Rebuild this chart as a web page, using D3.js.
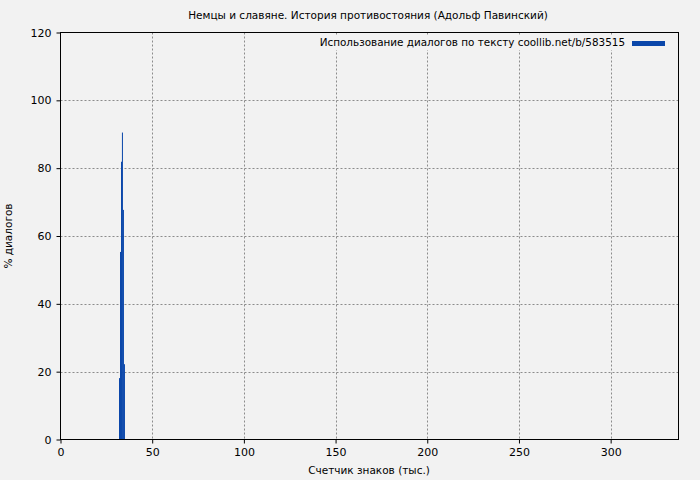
<!DOCTYPE html>
<html lang="ru">
<head>
<meta charset="UTF-8">
<title>Немцы и славяне</title>
<script src="https://cdn.jsdelivr.net/npm/d3@7"></script>
<style>
  body { margin: 0; background: #f2f2f2; overflow: hidden; }
  text { font-family: "DejaVu Sans", sans-serif; fill: #000; }
</style>
</head>
<body>
<script>
// данные: начало интервала (тыс. знаков) и % диалогов
const binStart = [31.9, 32.45, 33.0, 33.5, 34.05, 34.6];
const binWidth = 0.55;
const dialogPct = [18.1, 55.3, 81.9, 90.5, 67.7, 22.2];
const xTicks = [0, 50, 100, 150, 200, 250, 300];
const yTicks = [0, 20, 40, 60, 80, 100, 120];

const W = 700, H = 480;
const m = {left: 60.5, right: 678.5, top: 32.5, bottom: 439.5};

const svg = d3.select("body").append("svg")
    .attr("width", W).attr("height", H);
svg.append("rect").attr("width", W).attr("height", H).attr("fill", "#f2f2f2");

const x = d3.scaleLinear().domain([0, 337]).range([m.left, m.right]);
const y = d3.scaleLinear().domain([0, 120]).range([m.bottom, m.top]);

// сетка
const grid = svg.append("g").attr("stroke", "#8c8c8c").attr("stroke-dasharray", "2,2").attr("stroke-width", 1);
xTicks.slice(1).forEach(function (t) {
    grid.append("line").attr("x1", Math.round(x(t)) + 0.5).attr("x2", Math.round(x(t)) + 0.5)
        .attr("y1", m.top).attr("y2", m.bottom);
});
yTicks.slice(1, -1).forEach(function (t) {
    grid.append("line").attr("x1", m.left).attr("x2", m.right)
        .attr("y1", Math.round(y(t)) + 0.5).attr("y2", Math.round(y(t)) + 0.5);
});

// столбцы
svg.append("g").selectAll("rect").data(dialogPct).join("rect")
    .attr("x", (d, i) => x(binStart[i]))
    .attr("width", (d, i) => x(binStart[i] + binWidth) - x(binStart[i]))
    .attr("y", d => y(d))
    .attr("height", d => y(0) - y(d))
    .attr("fill", "#0b47aa");

// рамка
svg.append("rect").attr("x", m.left).attr("y", m.top)
    .attr("width", m.right - m.left).attr("height", m.bottom - m.top)
    .attr("fill", "none").attr("stroke", "#000").attr("stroke-width", 1);

// оси
const xAxis = svg.append("g").attr("transform", `translate(0,${m.bottom})`)
    .call(d3.axisBottom(x).tickValues(xTicks).tickSize(4).tickPadding(5));
const yAxis = svg.append("g").attr("transform", `translate(${m.left},0)`)
    .call(d3.axisLeft(y).tickValues(yTicks).tickSize(4).tickPadding(5));
[xAxis, yAxis].forEach(function (a) {
    a.select(".domain").remove();
    a.selectAll("text").style("font-size", "11px").style("font-family", "DejaVu Sans, sans-serif");
});

// заголовок и подписи
svg.append("text").attr("x", 368).attr("y", 19).attr("text-anchor", "middle")
    .style("font-size", "10.5px").text("Немцы и славяне. История противостояния (Адольф Павинский)");
svg.append("text").attr("x", 369).attr("y", 474).attr("text-anchor", "middle")
    .style("font-size", "10.5px").text("Счетчик знаков (тыс.)");
svg.append("text").attr("transform", "translate(12,236) rotate(-90)").attr("text-anchor", "middle")
    .style("font-size", "10.5px").text("% диалогов");

// легенда
const leg = svg.append("g");
leg.append("rect").attr("x", 314).attr("y", 35).attr("width", 356).attr("height", 15).attr("fill", "#f2f2f2");
leg.append("text").attr("x", 625).attr("y", 46).attr("text-anchor", "end")
    .style("font-size", "10.4px").text("Использование диалогов по тексту coollib.net/b/583515");
leg.append("line").attr("x1", 632).attr("x2", 665).attr("y1", 43.5).attr("y2", 43.5)
    .attr("stroke", "#0b47aa").attr("stroke-width", 5);
</script>
</body>
</html>
